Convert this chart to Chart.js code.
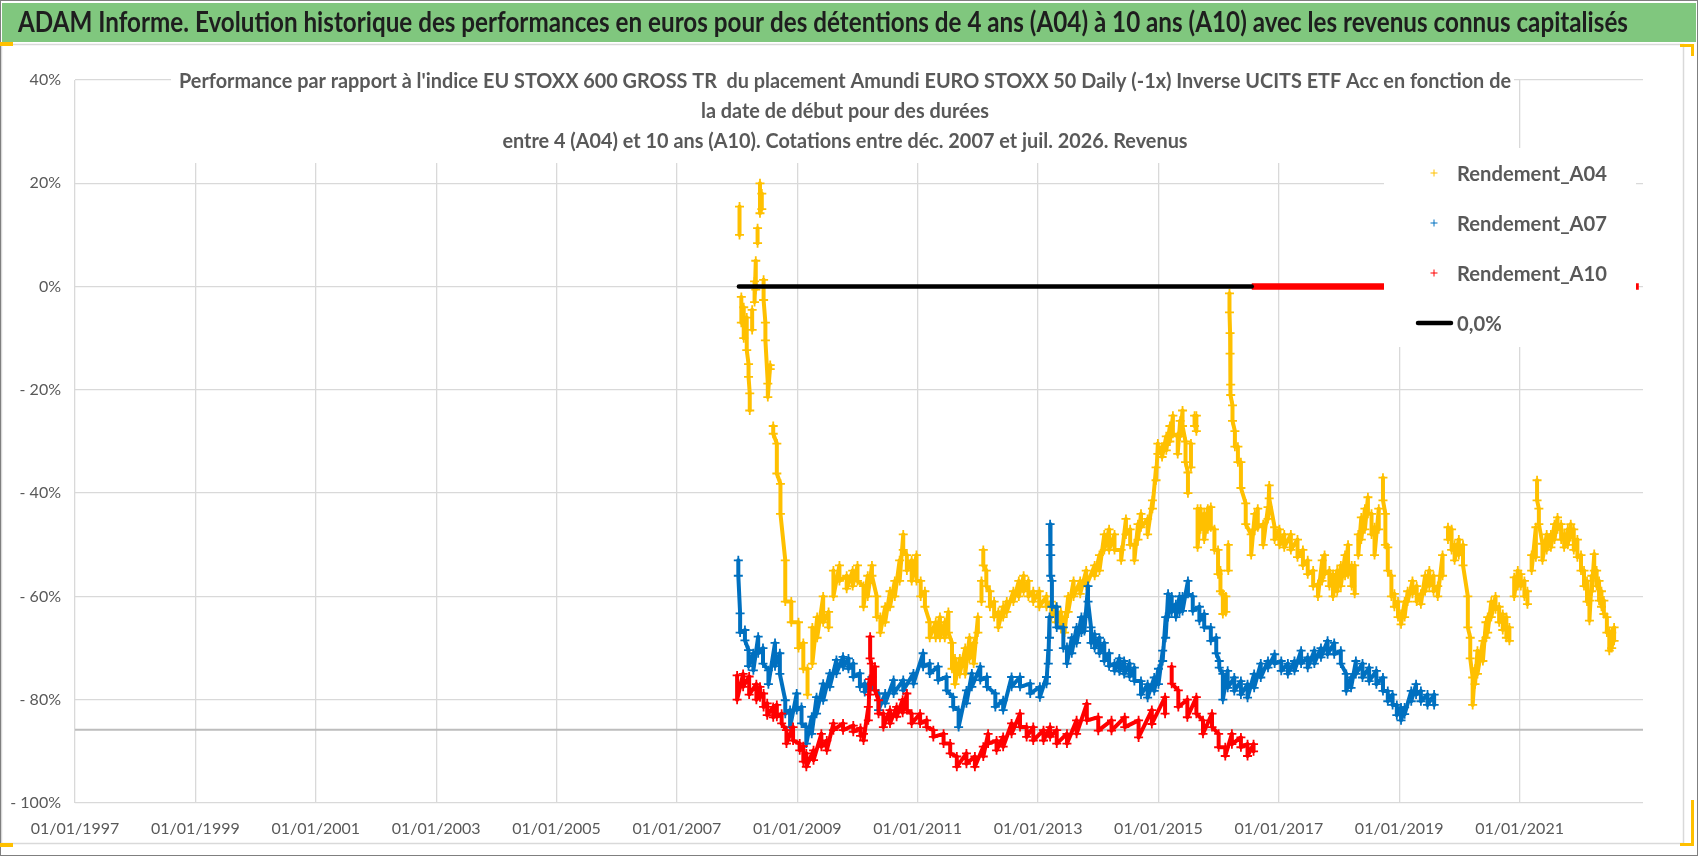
<!DOCTYPE html>
<html>
<head>
<meta charset="utf-8">
<script src="https://cdn.jsdelivr.net/npm/chart.js@4.4.1/dist/chart.umd.min.js"></script>
<style>
  html, body { margin: 0; padding: 0; background: #fff; }
  #wrap { width: 1698px; height: 856px; }
</style>
</head>
<body>
<div id="wrap"><canvas id="myChart" width="1698" height="856"></canvas></div>
<script>
// each row: [start date (decimal year), top of the cloud (%), bottom of the cloud (%)]
const a04 = [
  [2008.04, 15.5, 10], [2008.07, -2, -7], [2008.11, -4, -10], [2008.16, -6, -12.3], [2008.19, -15, -17.5],
  [2008.21, -20.7, -24], [2008.25, -4.5, -8.4], [2008.29, 1, -3], [2008.31, 5, -0.6], [2008.34, 11.3, 8.4],
  [2008.38, 20, 14.2], [2008.41, 18, 15], [2008.44, 1.3, -2.6], [2008.47, -7, -10.4], [2008.51, -18.8, -21.4],
  [2008.55, -15.2, -16], [2008.6, -27, -28.5], [2008.66, -30.4, -36.2], [2008.72, -38.2, -44], [2008.8, -53, -61],
  [2008.9, -61, -65], [2009.02, -65, -70], [2009.1, -69, -74], [2009.17, -74, -79], [2009.25, -66, -73],
  [2009.33, -64, -68], [2009.43, -60, -65], [2009.52, -63, -66], [2009.6, -55, -60], [2009.7, -54, -57],
  [2009.82, -56, -58.5], [2009.92, -55, -58], [2010, -54, -57], [2010.1, -58, -62], [2010.17, -56, -60],
  [2010.24, -54, -56], [2010.32, -60, -64], [2010.38, -64, -67], [2010.46, -62, -65], [2010.54, -59, -62],
  [2010.62, -57, -60], [2010.7, -53, -57], [2010.76, -48, -51], [2010.82, -52, -55], [2010.9, -53, -57],
  [2010.98, -52, -57], [2011.05, -57, -60], [2011.12, -59, -62], [2011.2, -65, -68], [2011.3, -65, -68],
  [2011.37, -64, -68], [2011.45, -65, -68], [2011.51, -63, -67], [2011.57, -69, -74], [2011.62, -72, -77],
  [2011.7, -72, -75], [2011.79, -70, -75], [2011.86, -68, -72], [2011.93, -69, -73], [2012, -64, -67],
  [2012.06, -57, -61], [2012.09, -51, -54], [2012.14, -55, -58], [2012.2, -59, -62], [2012.27, -61, -64],
  [2012.34, -63, -66], [2012.42, -62, -64], [2012.48, -61, -63], [2012.59, -59, -61], [2012.68, -57, -60],
  [2012.76, -56, -59], [2012.84, -57, -60], [2012.92, -59, -61], [2013.02, -59, -62], [2013.14, -60, -62],
  [2013.22, -61, -64], [2013.3, -62, -65], [2013.38, -63, -66], [2013.44, -64, -67], [2013.5, -60, -63],
  [2013.59, -57, -60], [2013.7, -57, -59.5], [2013.8, -55, -58], [2013.94, -54, -56], [2014.02, -52, -55],
  [2014.1, -48, -51], [2014.18, -47, -51], [2014.27, -48, -51], [2014.38, -51, -53], [2014.46, -45, -48],
  [2014.53, -47, -50], [2014.6, -50, -53], [2014.66, -46, -49], [2014.71, -44, -46.6], [2014.82, -45, -48],
  [2014.9, -41.4, -43], [2014.96, -35, -37.5], [2014.99, -30.4, -32.4], [2015.06, -31, -33], [2015.13, -29, -31.7],
  [2015.19, -27, -30], [2015.24, -25, -28.5], [2015.32, -29, -32.4], [2015.36, -26, -29], [2015.4, -24, -27],
  [2015.45, -30, -34], [2015.49, -36, -40], [2015.54, -30.4, -35], [2015.6, -25, -27], [2015.63, -25, -28],
  [2015.65, -43, -50.5], [2015.7, -43, -47], [2015.76, -44, -49], [2015.82, -43, -47], [2015.87, -42.7, -46.6],
  [2015.93, -47, -51], [2015.99, -51, -55.7], [2016.03, -55, -59], [2016.07, -59.5, -63.4], [2016.12, -60, -63],
  [2016.16, -50, -55], [2016.18, -1.3, -5], [2016.19, -9, -13], [2016.2, -19, -21], [2016.23, -23, -26],
  [2016.27, -28, -31], [2016.32, -31, -34], [2016.37, -34, -39], [2016.45, -42, -46], [2016.54, -48, -52],
  [2016.6, -44, -47], [2016.65, -43, -46.6], [2016.74, -46, -50], [2016.82, -42.7, -45], [2016.84, -38.5, -41],
  [2016.93, -46.6, -49], [2017.01, -47, -50], [2017.09, -48, -50.5], [2017.2, -48, -51], [2017.31, -49, -52.4],
  [2017.4, -51, -54], [2017.48, -53, -55.7], [2017.57, -55, -58], [2017.65, -57.6, -60], [2017.72, -53, -57],
  [2017.76, -52, -55.7], [2017.84, -55, -58], [2017.9, -55.7, -60], [2017.97, -55, -59], [2018.03, -54, -58],
  [2018.1, -52, -56], [2018.15, -50, -55.7], [2018.21, -54, -58], [2018.26, -54, -59.5], [2018.32, -48, -52],
  [2018.37, -44.7, -49], [2018.43, -43, -47], [2018.48, -40.8, -44], [2018.54, -44, -48], [2018.59, -46.6, -52],
  [2018.66, -43, -47], [2018.73, -37, -41.4], [2018.77, -44, -50], [2018.81, -50.5, -55], [2018.87, -56, -60],
  [2018.92, -59.5, -62], [2018.98, -61, -64], [2019.03, -63.4, -65.4], [2019.09, -61, -64], [2019.14, -59, -61],
  [2019.22, -57, -59.5], [2019.29, -58, -61], [2019.36, -59.5, -61.5], [2019.43, -56, -59], [2019.5, -55, -58],
  [2019.57, -56, -59], [2019.64, -58, -60], [2019.72, -52, -56], [2019.81, -46.6, -49], [2019.87, -47, -51],
  [2019.92, -50, -53], [2019.99, -49, -52], [2020.06, -50, -54], [2020.14, -60, -66], [2020.18, -68, -72],
  [2020.22, -75.7, -81], [2020.26, -74, -77], [2020.3, -70.5, -75], [2020.39, -68.6, -72.5], [2020.44, -65, -68],
  [2020.47, -64, -67], [2020.53, -61, -64], [2020.6, -60, -62.5], [2020.66, -62, -65], [2020.72, -63.4, -66.5],
  [2020.78, -64, -68], [2020.83, -66, -68.6], [2020.91, -56.3, -60], [2020.97, -55, -58], [2021.02, -55.7, -58],
  [2021.08, -57, -60], [2021.13, -59, -61.5], [2021.2, -52, -55], [2021.27, -46.6, -52.4], [2021.29, -37.5, -41.4],
  [2021.32, -43, -46], [2021.38, -49.8, -53], [2021.45, -48, -51], [2021.52, -48, -50.5], [2021.58, -46, -49],
  [2021.63, -44.7, -47], [2021.69, -46, -49], [2021.74, -48, -50.5], [2021.8, -47, -50], [2021.85, -46, -48.5],
  [2021.9, -47, -51], [2021.96, -49, -52.4], [2022.02, -52, -55], [2022.07, -55, -58], [2022.12, -57, -61],
  [2022.16, -60.8, -64.7], [2022.2, -56, -59], [2022.24, -51.8, -55], [2022.28, -55, -58], [2022.32, -57, -60.8],
  [2022.36, -59, -62], [2022.4, -60.8, -63.4], [2022.45, -64, -67], [2022.49, -66.7, -70.5], [2022.53, -67, -70],
  [2022.57, -66, -68.6]
];

const a07 = [
  [2008.02, -53, -56], [2008.05, -63.3, -67], [2008.13, -66.5, -68.5], [2008.19, -70.4, -73.5], [2008.27, -71, -74.3],
  [2008.35, -67.8, -71], [2008.43, -70, -73], [2008.52, -74.3, -77], [2008.63, -69, -73.5], [2008.71, -71, -75],
  [2008.8, -80.1, -82.7], [2008.88, -82, -85.3], [2008.99, -78.8, -82], [2009.07, -81.4, -84.6], [2009.15, -85.3, -88.5],
  [2009.24, -83.3, -86.6], [2009.32, -79.5, -82.7], [2009.43, -76.9, -80.1], [2009.54, -74.9, -77.5], [2009.65, -72.3, -74.9],
  [2009.76, -71.7, -73.6], [2009.85, -72, -74], [2009.93, -73, -75.6], [2010.04, -74.9, -77.5], [2010.12, -76.9, -78.5],
  [2010.24, -75.6, -77.5], [2010.35, -78.8, -82], [2010.46, -78.8, -80.7], [2010.6, -76.2, -78.8], [2010.76, -76.2, -78.2],
  [2010.93, -74.9, -76.9], [2011.09, -71, -73.6], [2011.2, -73, -74.9], [2011.34, -73.6, -76.2], [2011.48, -75.6, -78.2],
  [2011.59, -79.5, -81.4], [2011.68, -82, -85.3], [2011.81, -78.2, -80.7], [2011.9, -74.9, -77.5], [2012.04, -73.6, -76.2],
  [2012.15, -75.6, -77.5], [2012.29, -78.8, -81.4], [2012.42, -80.1, -82], [2012.56, -75.6, -77.5], [2012.7, -75.6, -77.5],
  [2012.87, -76.9, -78.8], [2013.03, -77.5, -79.5], [2013.14, -75.6, -76.9], [2013.17, -70.4, -73], [2013.19, -64, -68],
  [2013.2, -46, -50], [2013.21, -52, -56], [2013.23, -57, -62], [2013.31, -62, -66], [2013.42, -66, -70],
  [2013.48, -69.8, -73], [2013.56, -68, -71], [2013.64, -66, -69], [2013.72, -64, -67], [2013.77, -64, -66.7],
  [2013.83, -58, -61], [2013.88, -66, -69], [2013.94, -67.3, -70], [2014.02, -68, -71], [2014.1, -69, -72.5],
  [2014.18, -71, -73.5], [2014.27, -73, -74.4], [2014.35, -72, -74.5], [2014.43, -72.5, -75], [2014.52, -73, -75.5],
  [2014.6, -73.8, -76.4], [2014.71, -76.4, -79], [2014.82, -77, -79.6], [2014.93, -75.7, -78.3], [2015, -74, -77],
  [2015.07, -70.5, -72.5], [2015.12, -64, -68], [2015.16, -59.5, -64], [2015.22, -60, -63], [2015.29, -61.5, -64],
  [2015.35, -60, -63], [2015.4, -60, -62.8], [2015.49, -57, -59.5], [2015.57, -60, -62.8], [2015.68, -62, -64.7],
  [2015.76, -63.4, -66], [2015.87, -66, -68.6], [2015.96, -68, -71], [2016.01, -72.5, -73.8], [2016.07, -75, -80],
  [2016.15, -74.4, -77.7], [2016.26, -75.7, -78.3], [2016.37, -76.4, -79], [2016.48, -77, -79.6], [2016.59, -75, -77.7],
  [2016.7, -73, -75.7], [2016.82, -72.5, -73.8], [2016.93, -71.2, -73], [2017.04, -72.5, -74.4], [2017.15, -73, -75],
  [2017.26, -72.5, -74.4], [2017.37, -70.5, -73], [2017.48, -71.8, -73.8], [2017.59, -70.5, -73], [2017.7, -70, -71.8],
  [2017.81, -68.6, -71.2], [2017.92, -69, -71.2], [2018.03, -70.5, -73], [2018.12, -75, -78.3], [2018.2, -75.7, -77.7],
  [2018.28, -72.5, -75], [2018.39, -73, -75.7], [2018.5, -73.8, -76.4], [2018.62, -74.4, -77], [2018.73, -75.7, -78.3],
  [2018.81, -78.3, -80.3], [2018.89, -79, -81], [2018.96, -81, -83], [2019.03, -81.5, -84], [2019.09, -81.5, -82.8],
  [2019.2, -78.3, -80.3], [2019.28, -77, -79], [2019.36, -78.3, -80.3], [2019.47, -79, -81], [2019.58, -79, -81]
];

const a10 = [
  [2008, -75.3, -80], [2008.1, -75, -77.5], [2008.2, -75.5, -79], [2008.32, -77, -80], [2008.38, -77.5, -79.5],
  [2008.44, -78.8, -81.4], [2008.5, -80.7, -83], [2008.6, -81.4, -83.4], [2008.66, -81, -83.3], [2008.74, -82.7, -84.6],
  [2008.82, -85.9, -88.5], [2008.93, -85.3, -87.9], [2009.04, -88.5, -89.8], [2009.1, -89, -92], [2009.15, -90.4, -93],
  [2009.27, -89.8, -91.7], [2009.4, -86.6, -89.1], [2009.49, -87.9, -89.8], [2009.6, -84.6, -85.9], [2009.76, -84.6, -85.9],
  [2009.93, -85, -86.2], [2010.05, -85.5, -87], [2010.1, -86.6, -87.9], [2010.18, -81.4, -84], [2010.2, -76, -79],
  [2010.21, -67.8, -72], [2010.23, -73, -77], [2010.29, -73.6, -78.2], [2010.35, -80.1, -82.7], [2010.43, -82.7, -85.3],
  [2010.54, -82, -84.6], [2010.65, -81.4, -83.3], [2010.75, -80, -82.5], [2010.82, -78.8, -82], [2010.9, -82.7, -84.6],
  [2011.04, -82.7, -84.6], [2011.15, -84, -85.3], [2011.26, -85.9, -87.2], [2011.43, -86.6, -88.5], [2011.54, -88.5, -90.4],
  [2011.65, -91, -93], [2011.81, -90.4, -92.4], [2011.95, -91, -93], [2012.09, -89.1, -91], [2012.17, -86.6, -88.5],
  [2012.31, -87.9, -89.8], [2012.42, -87.2, -89.1], [2012.56, -84.6, -86.6], [2012.7, -82.7, -85.3], [2012.81, -85.3, -87.2],
  [2012.92, -85.3, -87.9], [2013.09, -85.9, -87.9], [2013.2, -85.3, -87.2], [2013.31, -85.9, -88.5], [2013.48, -86.6, -88.5],
  [2013.64, -84, -86.6], [2013.81, -80.8, -84], [2014, -83.4, -86], [2014.22, -84, -86], [2014.44, -83.4, -85.3],
  [2014.67, -84, -87.3], [2014.89, -82, -84.7], [2015.11, -79.5, -82.7], [2015.22, -73.6, -76.9], [2015.33, -78.2, -81.4],
  [2015.48, -80, -83.4], [2015.63, -79.5, -82.7], [2015.74, -84, -86.6], [2015.89, -82.7, -85.3], [2016, -86.6, -89.2],
  [2016.11, -89.2, -90.9], [2016.22, -86.6, -88.6], [2016.37, -87.3, -89.2], [2016.48, -88.6, -90.9], [2016.58, -88.6, -90]
];

// reference lines
const zeroLineDates = [2008.03, 2016.55];     // 0,0% (black)
const a10ZeroDates = [2016.55, 2022.98];      // A10 still at 0 (red)
const xAxisCross = -85.8;                     // where the horizontal axis crosses
const xMin = 1997, xMax = 2023.05;
const yMin = -100, yMax = 40, yStep = 20;
const tickYears = [1997, 1999, 2001, 2003, 2005, 2007, 2009, 2011, 2013, 2015, 2017, 2019, 2021];

const header = "ADAM Informe. Evolution historique des performances en euros pour des détentions de 4 ans (A04) à 10 ans (A10) avec les revenus connus capitalisés";
const titleLines = [
  "Performance par rapport à l'indice EU STOXX 600 GROSS TR  du placement Amundi EURO STOXX 50 Daily (-1x) Inverse UCITS ETF Acc en fonction de",
  "la date de début pour des durées",
  "entre 4 (A04) et 10 ans (A10). Cotations entre déc. 2007 et juil. 2026. Revenus"
];

const cloud = rows => rows.flatMap(r => [{ x: r[0], y: r[1] }, { x: r[0], y: r[2] }]);
const flat = (dates, v) => dates.map(d => ({ x: d, y: v }));

const grey = '#595959';
Chart.defaults.font.family = 'Lato, "Open Sans", sans-serif';
Chart.defaults.color = grey;

const scatterStyle = (color) => ({
  showLine: true,
  borderColor: color,
  backgroundColor: color,
  borderWidth: 4,
  borderJoinStyle: 'round',
  pointStyle: 'cross',
  pointRadius: 4.5,
  pointBorderWidth: 1.8,
  pointHoverRadius: 4.5,
  segment: {
    borderColor: c => Math.abs(c.p1.parsed.y - c.p0.parsed.y) > 9 ? 'transparent' : undefined
  }
});

function fitText(c, text, x, y, sx, align) {
  c.save();
  c.translate(x, y);
  c.scale(sx, 1);
  c.textAlign = align;
  c.fillText(text, 0, 0);
  c.restore();
}

const frame = {
  id: 'frame',
  beforeDraw(chart) {
    const c = chart.ctx;
    c.save();
    c.fillStyle = '#fff';
    c.fillRect(0, 0, chart.width, chart.height);
    // green header band
    c.fillStyle = '#80C77E';
    c.fillRect(2, 3, chart.width - 4, 39);
    c.fillStyle = '#1e1e1e';
    c.font = 'bold 29px Lato';
    c.textBaseline = 'middle';
    const hw = c.measureText(header).width;
    fitText(c, header, 18, 23, 1610 / hw, 'left');
    // borders
    c.strokeStyle = '#D9D9D9';
    c.lineWidth = 1.5;
    c.strokeRect(1.5, 44.5, 1682, 799);
    c.strokeStyle = '#7F7F7F';
    c.lineWidth = 1;
    c.strokeRect(0.5, 0.5, chart.width - 1, chart.height - 1);
    // selection handles
    c.fillStyle = '#FFC000';
    c.fillRect(0, 42, 13, 4);
    c.fillRect(1680, 44, 14, 3);
    c.fillRect(1691, 44, 3, 12);
    c.fillRect(1691, 800, 3, 46);
    c.fillRect(1680, 843, 14, 3);
    c.fillRect(0, 843, 13, 4);
    c.restore();
  },
  afterDatasetsDraw(chart) {
    const c = chart.ctx;
    c.save();
    // chart title, drawn over the plot on a white box
    c.fillStyle = '#fff';
    c.fillRect(171, 62, 1343, 101);
    c.fillStyle = grey;
    c.font = 'bold 20px Lato';
    c.textBaseline = 'middle';
    const sx = 1332 / c.measureText(titleLines[0]).width;
    [82, 112, 142].forEach((y, i) => fitText(c, titleLines[i], 845, y, sx, 'center'));
    // legend box
    c.fillStyle = '#fff';
    c.fillRect(1384, 148, 252, 199);
    c.font = 'bold 21px Lato';
    const items = chart.data.datasets.filter(d => d.legendKind);
    const lx = 150 / c.measureText(items[0].label).width;
    items.forEach((d, i) => {
      const y = 173 + i * 50;
      c.strokeStyle = d.borderColor;
      if (d.legendKind === 'line') {
        c.lineWidth = 4.5;
        c.lineCap = 'round';
        c.beginPath();
        c.moveTo(1418, y);
        c.lineTo(1451, y);
        c.stroke();
      } else {
        Chart.helpers.drawPoint(c, { pointStyle: 'cross', radius: 3.5, borderWidth: 1.3, rotation: 0 }, 1434, y);
      }
      c.fillStyle = grey;
      fitText(c, d.label, 1457, y + 1, lx, 'left');
    });
    c.restore();
  }
};

const ctx = document.getElementById('myChart').getContext('2d');
const myChart = new Chart(ctx, {
  type: 'scatter',
  data: {
    datasets: [
      Object.assign({ label: 'Rendement_A04', data: cloud(a04), order: 4, legendKind: 'marker' }, scatterStyle('#FFC000')),
      Object.assign({ label: 'Rendement_A07', data: cloud(a07), order: 3, legendKind: 'marker' }, scatterStyle('#0070C0')),
      Object.assign({ label: 'Rendement_A10', data: cloud(a10), order: 2, legendKind: 'marker' }, scatterStyle('#FF0000')),
      {
        label: '0,0%', data: flat(zeroLineDates, 0), order: 0, legendKind: 'line',
        showLine: true, borderColor: '#000000', borderWidth: 4.5, borderCapStyle: 'round', pointRadius: 0
      },
      {
        label: 'A10 zero', data: flat(a10ZeroDates, 0), order: 1,
        showLine: true, borderColor: '#FF0000', borderWidth: 6.5, pointRadius: 0
      },
      {
        label: 'axe', data: flat([xMin, xMax], xAxisCross), order: 9,
        showLine: true, borderColor: '#BDBDBD', borderWidth: 2, pointRadius: 0
      }
    ]
  },
  options: {
    responsive: false,
    animation: false,
    events: [],
    layout: { padding: { top: 80, right: 55, left: 0, bottom: 0 } },
    plugins: {
      legend: { display: false },
      tooltip: { enabled: false }
    },
    scales: {
      x: {
        type: 'linear',
        min: xMin,
        max: xMax,
        afterBuildTicks: (scale) => { scale.ticks = tickYears.map(v => ({ value: v })); },
        afterFit: (scale) => { scale.height = 53; },
        grid: { color: '#D9D9D9', lineWidth: 1.3, drawTicks: false },
        border: { display: false },
        ticks: {
          padding: 16,
          maxRotation: 0,
          autoSkip: false,
          font: { size: 16 },
          color: grey,
          callback: (v) => '01/01/' + v
        }
      },
      y: {
        min: yMin,
        max: yMax,
        afterFit: (scale) => { scale.width = 75; },
        grid: { color: '#D9D9D9', lineWidth: 1.3, drawTicks: false },
        border: { display: false },
        ticks: {
          stepSize: yStep,
          padding: 14,
          font: { size: 16 },
          color: grey,
          callback: (v) => v < 0 ? '- ' + (-v) + '%' : v + '%'
        }
      }
    }
  },
  plugins: [frame]
});
</script>
</body>
</html>
